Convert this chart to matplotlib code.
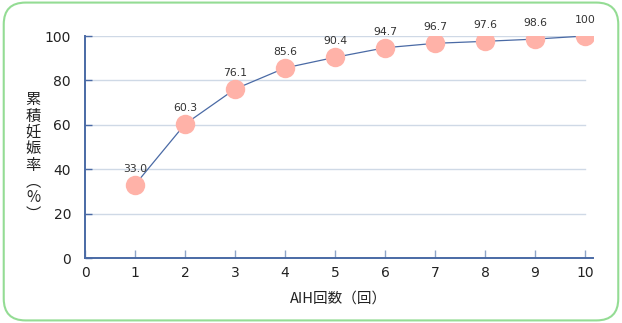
#!/usr/bin/env python3

"""
Cumulative pregnancy rate by number of AIH cycles.
"""

import matplotlib
matplotlib.use('Agg')
import matplotlib.pyplot as plt
from matplotlib.patches import FancyBboxPatch

plt.rcParams['font.family'] = ['Noto Sans CJK JP', 'DejaVu Sans']

cycles = [1, 2, 3, 4, 5, 6, 7, 8, 9, 10]
rates = [33.0, 60.3, 76.1, 85.6, 90.4, 94.7, 96.7, 97.6, 98.6, 100]
labels = ['33.0', '60.3', '76.1', '85.6', '90.4', '94.7', '96.7', '97.6', '98.6', '100']
yticks = [0, 20, 40, 60, 80, 100]
xticks = [0, 1, 2, 3, 4, 5, 6, 7, 8, 9, 10]

fig = plt.figure(figsize=(6.22, 3.23), dpi=100)

# rounded green frame around the whole picture
frame = FancyBboxPatch((0.006, 0.008), 0.988, 0.984,
                       boxstyle='round,pad=0,rounding_size=0.035',
                       transform=fig.transFigure, facecolor='white',
                       edgecolor='#94dc94', linewidth=1.5,
                       mutation_aspect=622 / 323, zorder=-10)
fig.patches.append(frame)

ax = fig.add_axes([85 / 622, 1 - 258 / 323, 508 / 622, 222 / 323])
ax.set_zorder(5)
ax.set_facecolor('none')
ax.set_xlim(0, 10.16)
ax.set_ylim(0, 100)

for y in yticks[1:]:
    ax.plot([0, 10], [y, y], color='#cfd9e6', lw=1, zorder=0)

ax.plot(cycles, rates, color='#4a6aa5', lw=0.9, zorder=2,
        marker='o', markersize=14, markerfacecolor='#ffb2a8',
        markeredgecolor='#ffb2a8', markeredgewidth=0)

for x, y, t in zip(cycles, rates, labels):
    ax.annotate(t, (x, y), xytext=(0, 8), textcoords='offset points',
                ha='center', va='bottom', fontsize=7.8, color='#333333',
                family=['DejaVu Sans'])

for s in ['top', 'right']:
    ax.spines[s].set_visible(False)
for s in ['left', 'bottom']:
    ax.spines[s].set_color('#4a6aa5')
    ax.spines[s].set_linewidth(1.4)

ax.set_xticks(xticks)
ax.set_yticks(yticks)
ax.set_xticklabels([str(v) for v in xticks], family=['DejaVu Sans'])
ax.set_yticklabels([str(v) for v in yticks], family=['DejaVu Sans'])
ax.tick_params(axis='x', direction='in', length=6, width=1, color='#8fa6c8',
               labelsize=10, labelcolor='#222222', pad=6)
ax.tick_params(axis='y', direction='in', length=5, width=1, color='#4a6aa5',
               labelsize=10, labelcolor='#222222', pad=10)

ax.set_xlabel('AIH回数（回）', fontsize=10.5, color='#222222', labelpad=8)

fig.text(33 / 622, 1 - 157 / 323, '\n'.join('累積妊娠率︵%︶'),
         ha='center', va='center', fontsize=11, color='#222222',
         linespacing=0.95)

fig.savefig('out.png', dpi=100)
